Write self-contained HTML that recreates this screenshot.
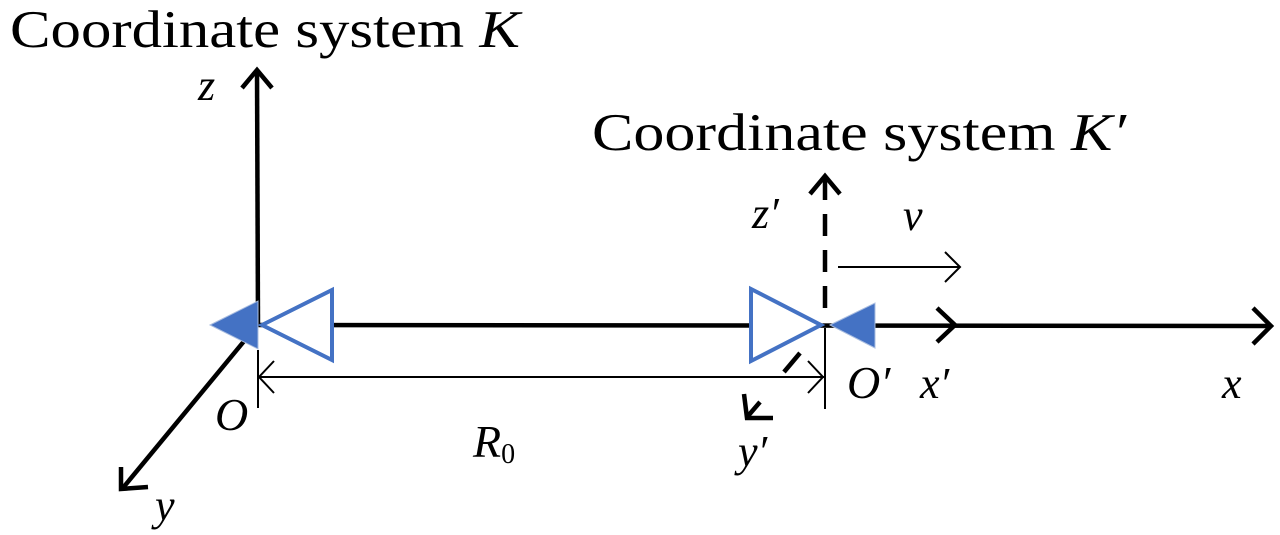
<!DOCTYPE html>
<html><head><meta charset="utf-8"><style>
html,body{margin:0;padding:0;background:#fff;}
svg{display:block;}
text{font-family:"Liberation Serif",serif;fill:#000;}
.i{font-style:italic;}
</style></head><body>
<svg width="1280" height="535" viewBox="0 0 1280 535">
<g stroke="#000" stroke-width="4.5" fill="none" stroke-linecap="butt">
  <line x1="257" y1="70" x2="258" y2="325"/>
  <polyline points="242,88 257,70 272,88"/>
  <line x1="258" y1="325" x2="1270" y2="326"/>
  <polyline points="1253,308 1271,326 1253,344"/>
  <polyline points="937,308 955,325 937,342"/>
  <line x1="245" y1="340" x2="122" y2="489"/>
  <polyline points="121,467 121,489 148,487"/>
  <line x1="825" y1="178" x2="825" y2="320" stroke-dasharray="22,14"/>
  <polyline points="810,194 825,176 840,194"/>
  <line x1="800" y1="353" x2="784" y2="372"/>
  <polyline points="744,394 747,418 773,418" />
  <line x1="748" y1="416" x2="760" y2="402"/>
</g>
<g stroke="#000" stroke-width="2" fill="none">
  <line x1="838" y1="267" x2="960" y2="267"/>
  <polyline points="945,252 960,267 945,282"/>
  <line x1="258" y1="377" x2="824" y2="377"/>
  <polyline points="274,361 259,377 274,393"/>
  <polyline points="808,361 823,377 808,393"/>
  <line x1="258" y1="350" x2="258" y2="408"/>
  <line x1="825" y1="328" x2="825" y2="409"/>
</g>
<polygon points="210,325 258,301 258,349" fill="#4472C4" stroke="#a9bde0" stroke-width="1"/>
<polygon points="262,325 332,290 332,360" fill="#fff" stroke="#4472C4" stroke-width="4"/>
<polygon points="751,289 751,361 821,325" fill="#fff" stroke="#4472C4" stroke-width="4"/>
<polygon points="830,325 875,303 875,348" fill="#4472C4" stroke="#a9bde0" stroke-width="1"/>
<text x="10" y="47" font-size="53" textLength="510" lengthAdjust="spacingAndGlyphs">Coordinate system <tspan class="i">K</tspan></text>
<text x="592" y="150" font-size="53" textLength="534" lengthAdjust="spacingAndGlyphs">Coordinate system <tspan class="i">K′</tspan></text>
<text class="i" x="198" y="100" font-size="44">z</text>
<text class="i" x="752" y="228" font-size="44">z′</text>
<text class="i" x="903" y="230" font-size="44">v</text>
<text class="i" x="215" y="430" font-size="46">O</text>
<text class="i" x="847" y="398" font-size="46">O′</text>
<text class="i" x="920" y="398" font-size="44">x′</text>
<text class="i" x="1222" y="398" font-size="44">x</text>
<text class="i" x="473" y="457" font-size="46">R<tspan font-style="normal" font-size="28" dy="6">0</tspan></text>
<text class="i" x="155" y="520" font-size="44">y</text>
<text class="i" x="738" y="466" font-size="44">y′</text>
</svg>
</body></html>
